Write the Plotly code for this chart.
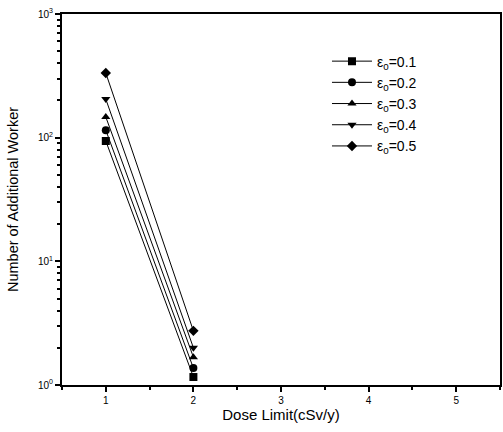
import plotly.graph_objects as go

dose_limit = [1, 2]
eps_labels = ["ε<sub>0</sub>=0.1", "ε<sub>0</sub>=0.2", "ε<sub>0</sub>=0.3",
              "ε<sub>0</sub>=0.4", "ε<sub>0</sub>=0.5"]
workers_01 = [94, 1.16]
workers_02 = [115, 1.37]
workers_03 = [147, 1.68]
workers_04 = [205, 2.0]
workers_05 = [333, 2.74]
series = [workers_01, workers_02, workers_03, workers_04, workers_05]
symbols = ["square", "circle", "triangle-up", "triangle-down", "diamond"]

y_tickvals = [1, 10, 100, 1000]
y_ticktext = ["10<sup>0</sup>", "10<sup>1</sup>", "10<sup>2</sup>", "10<sup>3</sup>"]
x_tickvals = [1, 2, 3, 4, 5]

fig = go.Figure()
for name, ys, sym in zip(eps_labels, series, symbols):
    fig.add_trace(go.Scatter(
        x=dose_limit, y=ys, name=name, mode="lines+markers",
        line=dict(color="black", width=1),
        marker=dict(symbol=sym, size=8, color="black"),
    ))

axis_common = dict(
    showline=True, linecolor="black", linewidth=2, mirror=True,
    ticks="outside", tickcolor="black", ticklen=5, tickwidth=1.5,
    showgrid=False, zeroline=False,
    tickfont=dict(family="Liberation Sans, Arial", size=10, color="black"),
)

fig.update_layout(
    width=503, height=432,
    margin=dict(l=62, r=1, t=14, b=47),
    paper_bgcolor="white", plot_bgcolor="white",
    font=dict(family="Liberation Sans, Arial", color="black"),
    xaxis=dict(
        range=[0.5, 5.5], tickvals=x_tickvals,
        minor=dict(ticks="outside", ticklen=3, tickcolor="black", dtick=0.5, tick0=0.5),
        title=dict(text="Dose Limit(cSv/y)", font=dict(size=15), standoff=2),
        **axis_common,
    ),
    yaxis=dict(
        type="log", range=[0, 3], tickvals=y_tickvals, ticktext=y_ticktext,
        minor=dict(ticks="outside", ticklen=3, tickcolor="black",
                   tickvals=[m * 10 ** d for d in range(3) for m in range(2, 10)]),
        title=dict(text="Number of Additional Worker", font=dict(size=14.5), standoff=16),
        **axis_common,
    ),
    legend=dict(
        x=0.605, y=0.915, xanchor="left", yanchor="top",
        bgcolor="rgba(0,0,0,0)", font=dict(size=14),
        itemwidth=40, tracegroupgap=2,
    ),
)

fig.write_html("out.html")
